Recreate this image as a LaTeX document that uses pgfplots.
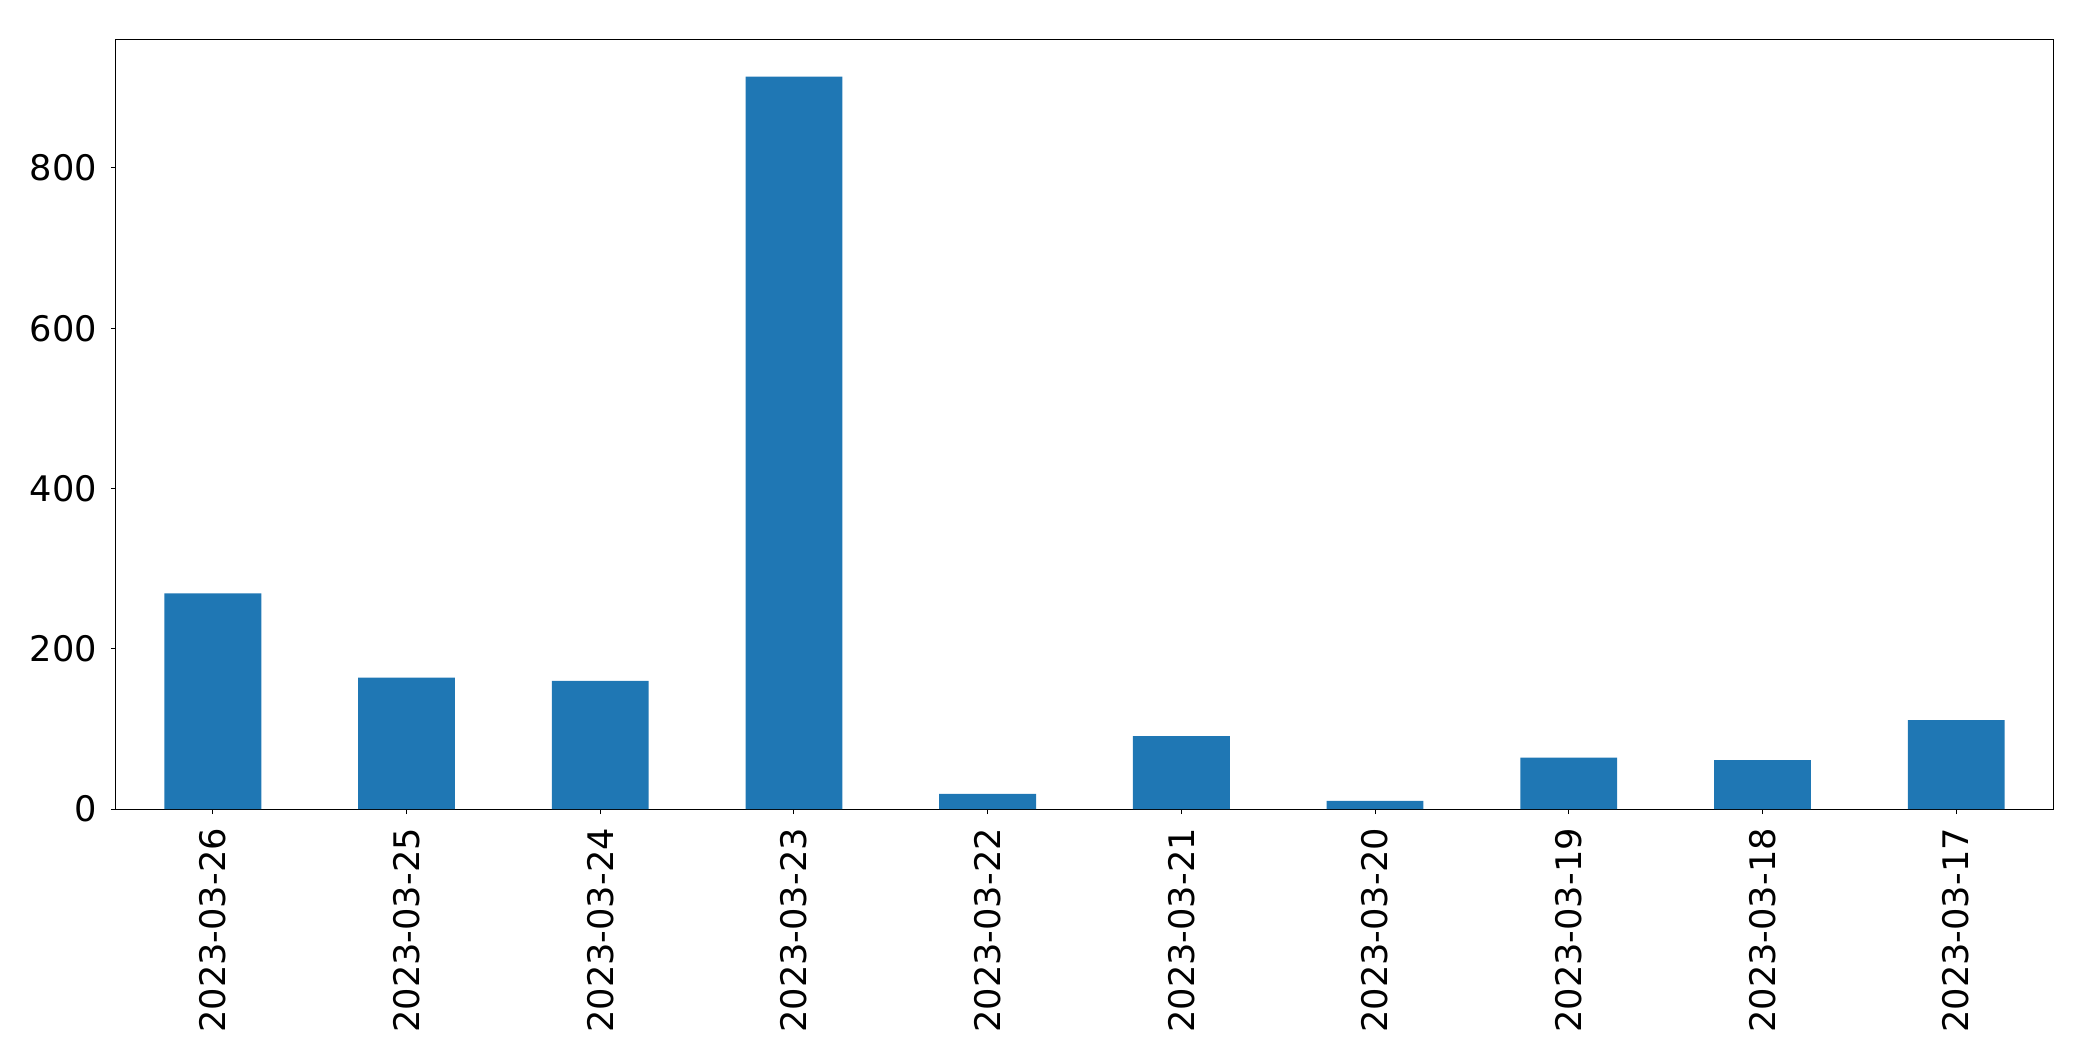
\documentclass[border=0pt]{standalone}
\usepackage{fontspec}
\setmainfont{DejaVu Sans}
\usepackage{pgfplots}
\pgfplotsset{compat=1.18}
\definecolor{mplblue}{HTML}{1F77B4}
\begin{document}
\fontsize{17.6pt}{20pt}\selectfont
\begin{tikzpicture}
\useasboundingbox (-58pt,-126pt) rectangle (988.5pt,404.5pt);
\begin{axis}[
  at={(0pt,0pt)}, anchor=south west,
  scale only axis,
  width=968.5pt, height=384.5pt,
  xmin=-0.5, xmax=9.5,
  ymin=0, ymax=959.7,
  xtick={0,1,2,3,4,5,6,7,8,9},
  xticklabels={2023-03-26,2023-03-25,2023-03-24,2023-03-23,2023-03-22,2023-03-21,2023-03-20,2023-03-19,2023-03-18,2023-03-17},
  x tick label style={rotate=90, anchor=east},
  ytick={0,200,400,600,800},
  tick align=outside,
  tick pos=left,
  major tick length=2.5pt,
  tick style={black, line width=0.5pt},
  axis line style={black, line width=0.5pt},
  /pgf/number format/assume math mode=true,
  ticklabel style={font=\fontsize{17.6pt}{20pt}\selectfont},
  xticklabel shift=1pt,
  yticklabel shift=1pt,
]
\addplot[ybar, bar width=0.5, fill=mplblue, draw=none] coordinates {
  (0,269) (1,164) (2,160) (3,914) (4,19) (5,91) (6,10) (7,64) (8,61) (9,111)
};
\end{axis}
\end{tikzpicture}
\end{document}
